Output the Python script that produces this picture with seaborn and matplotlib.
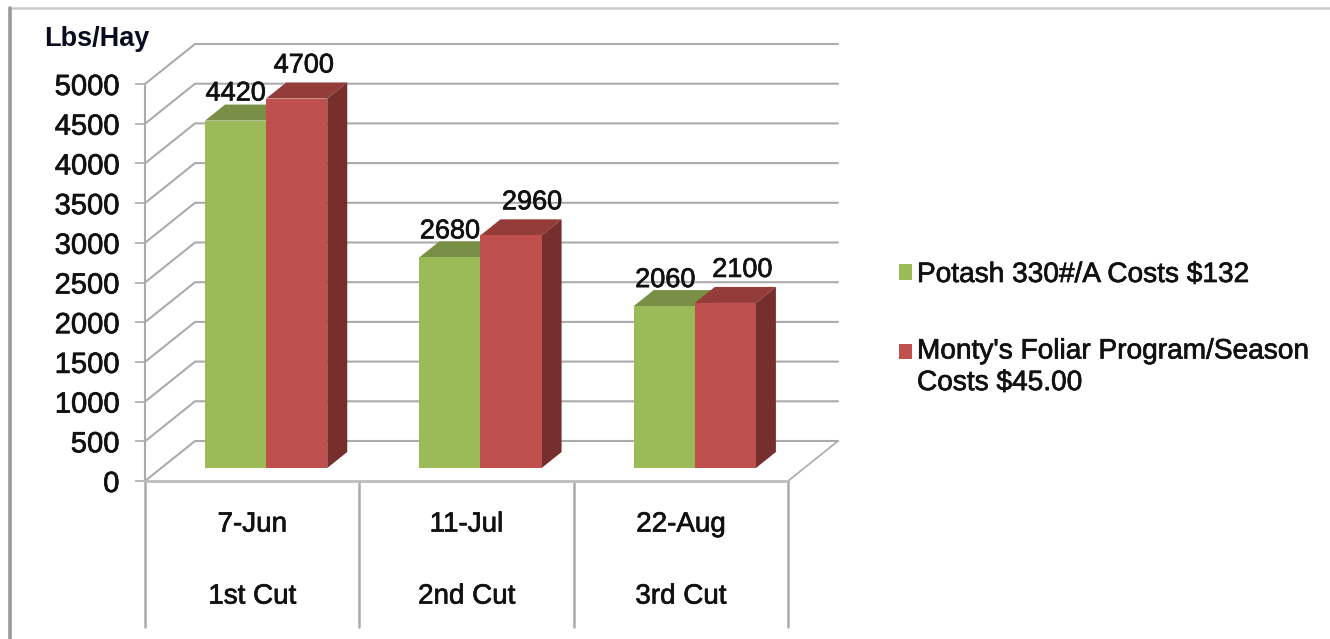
#!/usr/bin/env python3
"""Hay yield per cutting, drawn as a mock 3D clustered bar chart."""
import matplotlib
matplotlib.use("Agg")
import matplotlib.patheffects as pe
import matplotlib.pyplot as plt
import pandas as pd
import seaborn as sns
from matplotlib.lines import Line2D
from matplotlib.patches import Patch, Polygon
from matplotlib.transforms import Affine2D, IdentityTransform

dates = ["7-Jun", "11-Jul", "22-Aug"]
cuts = ["1st Cut", "2nd Cut", "3rd Cut"]
potash = [4420, 2680, 2060]
monty = [4700, 2960, 2100]
series_names = ["Potash 330#/A Costs $132", "Monty's Foliar Program/Season\nCosts $45.00"]
y_ticks = list(range(0, 5001, 500))

GREEN, GREEN_TOP = "#9BBB59", "#7A8F46"
RED, RED_TOP, RED_SIDE = "#C0504D", "#943C39", "#772F2D"
GRID = "#ABABAB"
INK = "#111111"
W, H = 1330, 639
# slightly heavier text, the reference is a soft upscaled screenshot
HEAVY = [pe.withStroke(linewidth=0.5, foreground=INK)]

sns.set_theme(style="white")
plt.rcParams["font.family"] = ["Liberation Sans", "DejaVu Sans"]

labels = [f"{d}\n\n{c}" for d, c in zip(dates, cuts)]
df = pd.DataFrame({
    "cut": labels * 2,
    "series": [series_names[0]] * 3 + [series_names[1]] * 3,
    "value": potash + monty,
})

fig = plt.figure(figsize=(W / 100, H / 100), dpi=100, facecolor="white")
ax = fig.add_axes([145 / W, (H - 481) / H, 643 / W, 397 / H])
sns.barplot(data=df, x="cut", y="value", hue="series", ax=ax, width=0.57, gap=0,
            palette=[GREEN, RED], saturation=1, legend=False, linewidth=0, zorder=3)
ax.set_xlim(-0.5, 2.5)
ax.set_ylim(0, 5000)
ax.set_xlabel("")
ax.set_ylabel("")
sns.despine(ax=ax, left=True, bottom=True)
ax.patch.set_alpha(0)


def pt(x, y, dx=0, dy=0):
    # data position to pixels, plus a depth offset in pixels
    px, py = ax.transData.transform((x, y))
    return px + dx, py + dy


pix = IdentityTransform()


def wall_line(xs, ys, lw=1.5, color=GRID, z=1):
    ax.add_line(Line2D(xs, ys, transform=pix, color=color, lw=lw, clip_on=False,
                       zorder=z, solid_joinstyle="round"))


# back wall and side wall gridlines
for t in y_ticks:
    p0 = pt(-0.5, t)
    p1 = pt(-0.5, t, 50, 40)
    p2 = pt(2.5, t, 50, 40)
    wall_line([p0[0], p1[0], p2[0]], [p0[1], p1[1], p2[1]])

# floor edge on the right
p0, p1 = pt(2.5, 0), pt(2.5, 0, 50, 40)
wall_line([p0[0], p1[0]], [p0[1], p1[1]], lw=1.2)
# front edge of the floor
p0, p1 = pt(-0.5, 0), pt(2.5, 0)
wall_line([p0[0], p1[0]], [p0[1], p1[1]], lw=2, color="#BDBDBD", z=2)
# left axis
p0, p1 = pt(-0.5, 0), pt(-0.5, 5000)
wall_line([p0[0], p1[0]], [p0[1], p1[1]], lw=1.5)
# category separators below the floor
for x in [-0.5, 0.5, 1.5, 2.5]:
    p0 = pt(x, 0)
    wall_line([p0[0], p0[0]], [p0[1], H - 627], lw=1.8)

# bars sit part way into the depth of the floor, a touch smaller from perspective
base = ax.transData.transform((0, 0))[1]
shift = ax.transData + Affine2D().translate(0, -base).scale(1, 0.99).translate(14, base + 13)
bars = list(ax.patches)[:6]
for i, bar in enumerate(bars):
    bar.set_transform(shift)
    bar.set_clip_on(False)
    x0, x1 = bar.get_x(), bar.get_x() + bar.get_width()
    h = bar.get_height()
    a = shift.transform((x0, h))
    b = shift.transform((x1, h))
    c = shift.transform((x1, 0))
    d = (20, 16)
    is_red = i >= 3
    top = [a, b, (b[0] + d[0], b[1] + d[1]), (a[0] + d[0], a[1] + d[1])]
    side = [b, c, (c[0] + d[0], c[1] + d[1]), (b[0] + d[0], b[1] + d[1])]
    z = 3.2 if is_red else 2.5
    bar.set_zorder(z + 0.1)
    ax.add_patch(Polygon(top, closed=True, transform=pix, fc=RED_TOP if is_red else GREEN_TOP,
                         lw=0, clip_on=False, zorder=z))
    ax.add_patch(Polygon(side, closed=True, transform=pix, fc=RED_SIDE if is_red else GREEN_TOP,
                         lw=0, clip_on=False, zorder=z))

# value labels, above the top face of each bar (potash first, then monty)
label_dx = [0, 0, 1, 7, 21, 17]
label_dy = [27, 26, 26, 33, 33, 33]
for i, (bar, val) in enumerate(zip(bars, potash + monty)):
    xc = bar.get_x() + bar.get_width() / 2
    px, py = shift.transform((xc, val))
    ax.text(px + label_dx[i], py + label_dy[i], str(val), transform=pix, ha="center", va="center",
            fontsize=19.5, color=INK, zorder=6, clip_on=False, path_effects=HEAVY)

# axis ticks and labels
ax.set_yticks(y_ticks)
ax.tick_params(axis="y", length=7.5, width=1.2, color=GRID, pad=11, labelsize=21,
               labelcolor=INK, left=True)
ax.tick_params(axis="x", length=0, pad=22, labelsize=20, labelcolor=INK, bottom=False)
for lab in ax.get_xticklabels():
    lab.set_linespacing(1.5)
    lab.set_path_effects(HEAVY)
for lab in ax.get_yticklabels():
    lab.set_path_effects(HEAVY)

fig.text(44 / W, 1 - 39 / H, "Lbs/Hay", fontsize=19.5, fontweight="bold", color="#0B0B20",
         ha="left", va="center")

# picture frame: top and left rules
fig.add_artist(Line2D([10 / W, 1], [1 - 8 / H, 1 - 8 / H], transform=fig.transFigure,
                      color="#CCCCCC", lw=1.8))
fig.add_artist(Line2D([10 / W, 10 / W], [0, 1 - 8 / H], transform=fig.transFigure,
                      color="#999999", lw=2.6))

handles = [Patch(fc=GREEN, lw=0), Patch(fc=RED, lw=0)]
leg = fig.legend(handles, series_names, loc="upper left", bbox_to_anchor=(899 / W, 1 - 262 / H),
                 frameon=False, fontsize=20.2, handlelength=0.46, handleheight=0.46,
                 handletextpad=0.18, labelspacing=1.8, labelcolor=INK, borderpad=0, borderaxespad=0)
for txt in leg.get_texts():
    txt.set_linespacing(1.28)
    txt.set_path_effects(HEAVY)
# marker of the two-line entry lines up with its first line
red_handle = leg.get_patches()[1]
red_handle.set_y(red_handle.get_y() + 11.5)

fig.savefig("out.png", dpi=100)
plt.close(fig)
